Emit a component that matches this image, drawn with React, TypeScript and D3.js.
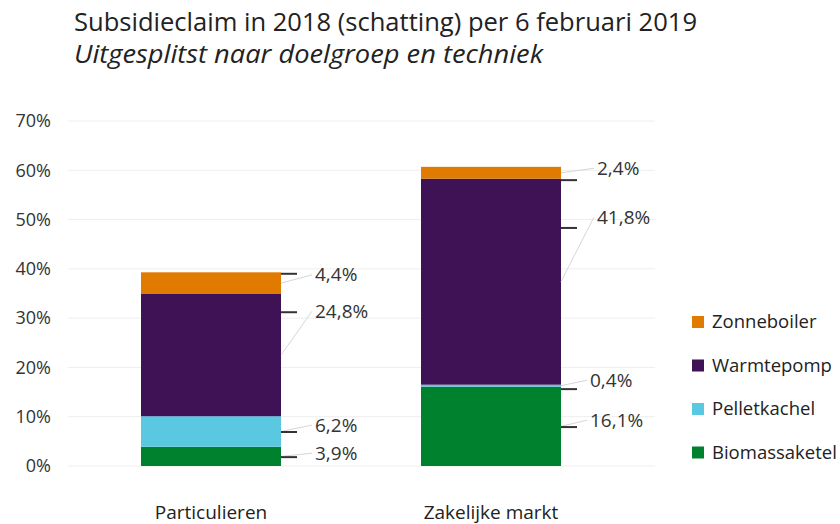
import { useRef, useEffect } from "react";
import * as d3 from "d3";

const categories = ["Particulieren", "Zakelijke markt"];
const series = ["Biomassaketel", "Pelletkachel", "Warmtepomp", "Zonneboiler"];
const colors = ["#00812E", "#5BC8E2", "#3F1155", "#E07B00"];
// values per category, in series order (percent)
const particulieren = [3.9, 6.2, 24.8, 4.4];
const zakelijk = [16.1, 0.4, 41.8, 2.4];
const valueLabels = [
  ["3,9%", "6,2%", "24,8%", "4,4%"],
  ["16,1%", "0,4%", "41,8%", "2,4%"],
];
// where the labels sit, in percent units
const labelPos = [
  [2.6, 8.3, 31.4, 38.8],
  [9.3, 17.4, 50.5, 60.4],
];
// short dark markers next to the bars
const markerPos = [
  [1.8, 6.9, 31.2, 39.0],
  [7.9, 15.6, 48.3, 58.0],
];
const yTicks = [0, 10, 20, 30, 40, 50, 60, 70];
const legendOrder = ["Zonneboiler", "Warmtepomp", "Pelletkachel", "Biomassaketel"];

const FONT = "'Open Sans', 'Noto Sans', sans-serif";

export default function App() {
  const svgRef = useRef<SVGSVGElement>(null);

  useEffect(() => {
    document.body.style.margin = "0";
    const svg = d3.select(svgRef.current);
    svg.selectAll("*").remove();

    const width = 840;
    const height = 524;
    const margin = { top: 121, bottom: 58 };

    svg.attr("width", width).attr("height", height).style("font-family", FONT);
    svg.append("rect").attr("width", width).attr("height", height).attr("fill", "#fff");

    const y = d3.scaleLinear().domain([0, 70]).range([height - margin.bottom, margin.top]);
    const x = d3.scaleBand().domain(categories).range([1, 701]).paddingInner(0.5).paddingOuter(0.5);
    const barW = x.bandwidth();

    // title
    svg.append("text")
      .attr("x", 74).attr("y", 31)
      .attr("font-size", 25).attr("fill", "#222")
      .attr("textLength", 623).attr("lengthAdjust", "spacingAndGlyphs")
      .text("Subsidieclaim in 2018 (schatting) per 6 februari 2019");
    svg.append("text")
      .attr("x", 74).attr("y", 63)
      .attr("font-size", 25).attr("font-style", "italic").attr("fill", "#222")
      .attr("textLength", 469).attr("lengthAdjust", "spacingAndGlyphs")
      .text("Uitgesplitst naar doelgroep en techniek");

    // grid
    svg.append("g").selectAll("line").data(yTicks).join("line")
      .attr("x1", 68).attr("x2", 655)
      .attr("y1", (d) => y(d)).attr("y2", (d) => y(d))
      .attr("stroke", "#eeeeee").attr("stroke-width", 1);

    // y labels
    svg.append("g").selectAll("text").data(yTicks).join("text")
      .attr("x", 51).attr("y", (d) => y(d))
      .attr("dy", "0.35em").attr("text-anchor", "end")
      .attr("font-size", 18).attr("fill", "#333")
      .text((d) => `${d}%`);

    const data = [particulieren, zakelijk];
    data.forEach((vals, ci) => {
      const cat = categories[ci];
      const left = x(cat)!;
      const right = left + barW;
      const stacked = d3.cumsum(vals);
      const g = svg.append("g");
      vals.forEach((v, si) => {
        const y0 = stacked[si] - v;
        const y1 = stacked[si];
        g.append("rect")
          .attr("x", left).attr("width", barW)
          .attr("y", y(y1)).attr("height", y(y0) - y(y1))
          .attr("fill", colors[si]);
      });

      vals.forEach((v, si) => {
        const mid = stacked[si] - v / 2;
        const lx = right + (ci === 0 ? 34 : si >= 2 ? 36 : 29);
        // faint leader line
        g.append("line")
          .attr("x1", right).attr("y1", y(mid))
          .attr("x2", lx - 3).attr("y2", y(labelPos[ci][si]))
          .attr("stroke", "#d6d6d6").attr("stroke-width", 1);
        // dark marker
        g.append("line")
          .attr("x1", right).attr("x2", right + 16)
          .attr("y1", y(markerPos[ci][si])).attr("y2", y(markerPos[ci][si]))
          .attr("stroke", "#333").attr("stroke-width", 2);
        g.append("text")
          .attr("x", lx).attr("y", y(labelPos[ci][si]))
          .attr("dy", "0.35em")
          .attr("font-size", 19).attr("fill", "#333")
          .text(valueLabels[ci][si]);
      });

      svg.append("text")
        .attr("x", left + barW / 2).attr("y", 519)
        .attr("text-anchor", "middle")
        .attr("font-size", 19).attr("fill", "#222")
        .text(cat);
    });

    // legend
    const legend = svg.append("g");
    legendOrder.forEach((name, i) => {
      const cy = 322 + i * 43.5;
      legend.append("rect")
        .attr("x", 692).attr("y", cy - 6).attr("width", 12).attr("height", 12)
        .attr("fill", colors[series.indexOf(name)]);
      legend.append("text")
        .attr("x", 712).attr("y", cy).attr("dy", "0.35em")
        .attr("font-size", 18.5).attr("fill", "#222")
        .text(name);
    });
  }, []);

  return <svg ref={svgRef} style={{ display: "block" }} />;
}
